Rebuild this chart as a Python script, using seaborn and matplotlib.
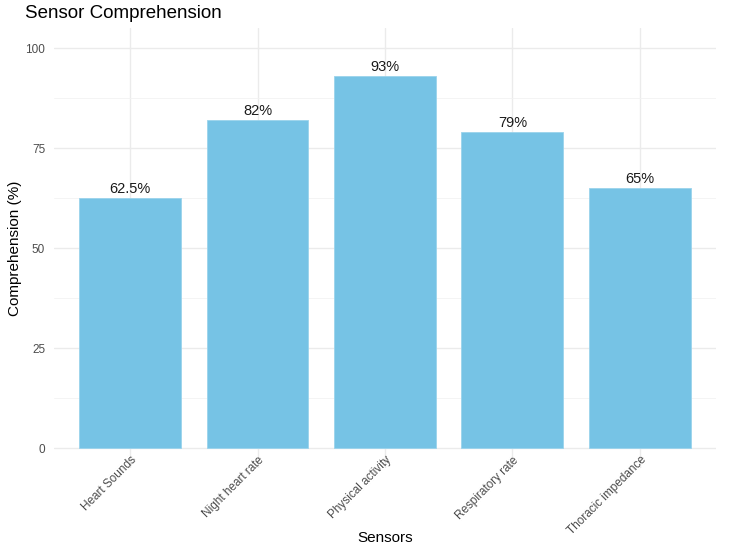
import matplotlib
matplotlib.use("Agg")
import matplotlib.pyplot as plt
import seaborn as sns
import pandas as pd
from matplotlib.ticker import MultipleLocator

sensors = ["Heart Sounds", "Night heart rate", "Physical activity", "Respiratory rate", "Thoracic impedance"]
comprehension = [62.5, 82, 93, 79, 65]
labels = ["62.5%", "82%", "93%", "79%", "65%"]
yticks = [0, 25, 50, 75, 100]

df = pd.DataFrame({"Sensors": sensors, "Comprehension": comprehension})

sns.set_style("white")
plt.rcParams['font.family'] = ['Liberation Sans', 'DejaVu Sans']

fig = plt.figure(figsize=(7.32, 5.51), dpi=100)
ax = fig.add_axes([0.0731, 0.1506, 0.9057, 0.7984])

sns.barplot(data=df, x="Sensors", y="Comprehension", color="#76C3E5", saturation=1,
            width=0.8, edgecolor="#9AD3EC", linewidth=0.6, ax=ax, zorder=3)

for i, (v, lab) in enumerate(zip(comprehension, labels)):
    ax.text(i, v + 0.4, lab, ha="center", va="bottom", fontsize=10.5, color="#1a1a1a", zorder=4)

ax.set_xlim(-0.6, len(sensors) - 0.4)
ax.set_ylim(-5, 105)
ax.set_yticks(yticks)
ax.yaxis.set_minor_locator(MultipleLocator(12.5))
ax.grid(True, which="major", axis="both", color="#EBEBEB", linewidth=1.0, zorder=0)
ax.grid(True, which="minor", axis="y", color="#F2F2F2", linewidth=0.6, zorder=0)
ax.set_axisbelow(True)
for s in ax.spines.values():
    s.set_visible(False)
ax.tick_params(axis="both", which="both", length=0, colors="#4D4D4D", labelsize=8.5)
ax.tick_params(axis="y", pad=6)
ax.tick_params(axis="x", pad=-10)
plt.setp(ax.get_xticklabels(), rotation=45, ha="right", rotation_mode="anchor")

ax.set_xlabel("Sensors", fontsize=11, color="black")
ax.set_ylabel("Comprehension (%)", fontsize=11, color="black")
ax.xaxis.set_label_coords((385 - 53.5) / 663, -(538 - 468) / 440)
ax.xaxis.label.set_va("center")
ax.yaxis.set_label_coords(-(53.5 - 15) / 663, 0.5)
ax.yaxis.label.set_va("center")
fig.text(25/732, 1 - 14/551, "Sensor Comprehension", fontsize=13.5, color="black", va="center", ha="left")

fig.savefig("out.png", dpi=100, facecolor="white")
